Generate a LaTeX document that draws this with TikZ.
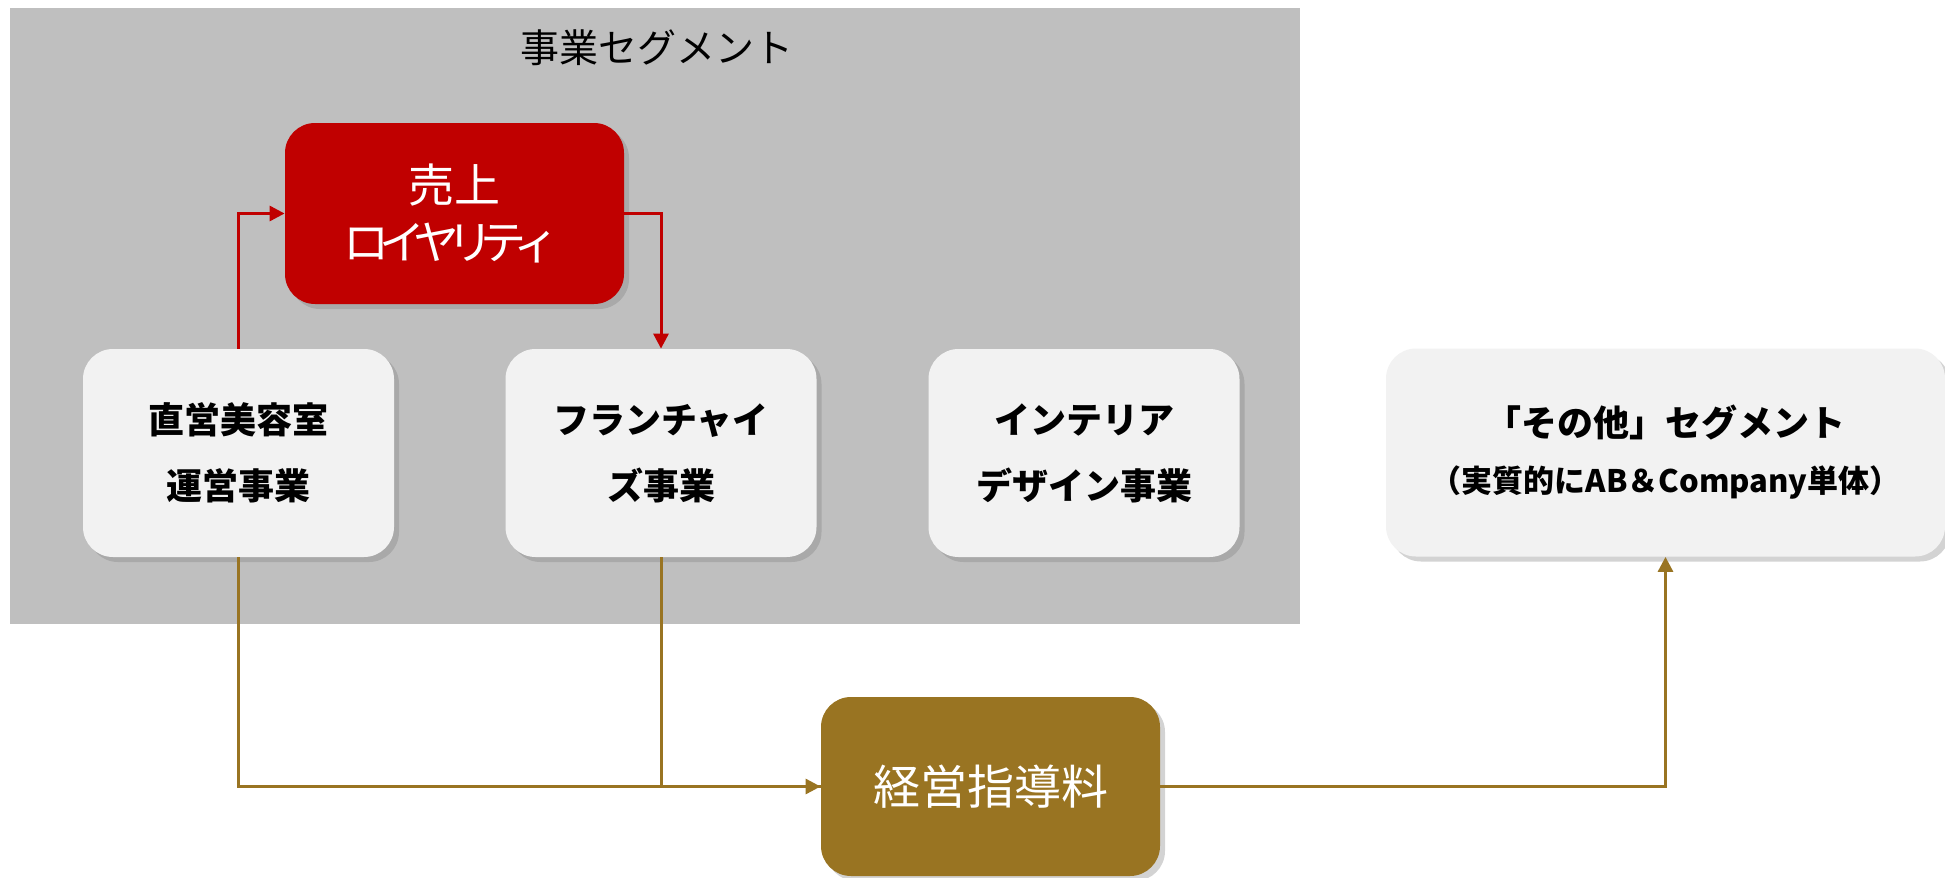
\documentclass[tikz,border=0pt]{standalone}
\usepackage{fontspec}
\setmainfont{Noto Sans CJK JP}
\newfontfamily\jp{Noto Sans CJK JP}
\usetikzlibrary{shadows,arrows.meta}
\definecolor{bggray}{HTML}{BFBFBF}
\definecolor{boxred}{HTML}{C00000}
\definecolor{boxgold}{HTML}{997422}
\definecolor{boxwhite}{HTML}{F2F2F2}
\tikzset{
  basebox/.style={rounded corners=15pt, inner sep=0pt, align=center,
    drop shadow={opacity=0.35, shadow xshift=2.5pt, shadow yshift=-2.5pt}},
  wbox/.style={basebox, fill=boxwhite, text=black, minimum width=155.5pt, minimum height=104pt,
    font=\jp\bfseries\fontsize{18pt}{33pt}\selectfont},
  rbox/.style={basebox, fill=boxred, text=white, minimum width=169.5pt, minimum height=90.5pt,
    font=\jp\fontsize{23pt}{28.5pt}\selectfont},
  gbox/.style={basebox, fill=boxgold, text=white, minimum width=169.5pt, minimum height=89.5pt,
    font=\jp\fontsize{23.5pt}{28pt}\selectfont},
  rline/.style={draw=boxred, line width=1.5pt, -{Triangle[length=7.5pt,width=7.5pt]}},
  gline/.style={draw=boxgold, line width=1.5pt, -{Triangle[length=7.5pt,width=7.5pt]}},
  gplain/.style={draw=boxgold, line width=1.5pt}
}
\begin{document}
\begin{tikzpicture}[x=0.5pt,y=-0.5pt]
\useasboundingbox (0,0) rectangle (1945,878);
\fill[bggray] (10,8) rectangle (1300,624);
\node[font=\jp\fontsize{19.5pt}{22pt}\selectfont] (title) at (657,48) {事業セグメント};
\node[rbox] (red) at (454.5,213.5) {売上\\ロ\kern-5ptイ\kern-6ptヤ\kern-6ptリ\kern-6.5ptテ\kern-6.5ptィ\kern3pt};
\node[wbox] (direct) at (238.5,453) {直営美容室\\運営事業};
\node[wbox] (franchise) at (661,453) {フランチャイ\\ズ事業};
\node[wbox] (interior) at (1084,453) {インテリア\\デザイン事業};
\node[gbox] (fee) at (990.5,786.5) {経営指導料};
\node[wbox, minimum width=279.5pt, font=\jp\bfseries\fontsize{18pt}{28pt}\selectfont] (other) at (1665.5,452.5)
  {「その他」セグメント\\{\fontsize{15.5pt}{17pt}\selectfont（実質的にAB＆Company単体）}};
\draw[rline] (direct.north) |- (red.west);
\draw[rline] (red.east) -| (franchise.north);
\draw[gline] (direct.south) |- (fee.west);
\draw[gplain] (franchise.south) |- (fee.west);
\draw[gline] (fee.east) -| (other.south);
\end{tikzpicture}
\end{document}
